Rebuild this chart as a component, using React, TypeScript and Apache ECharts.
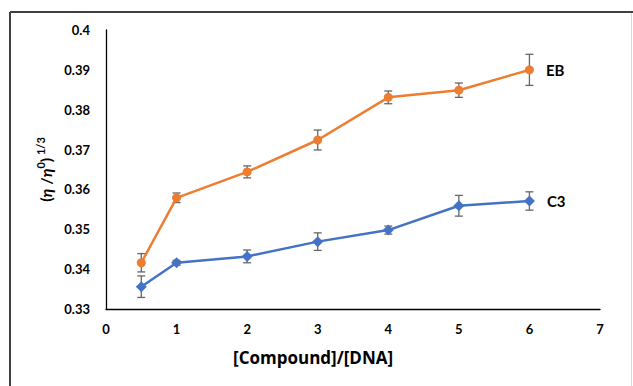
import React, { useEffect, useRef } from "react";
import * as echarts from "echarts";

const xValues = [0.5, 1, 2, 3, 4, 5, 6];
const ebValues = [0.3416, 0.3579, 0.3644, 0.3724, 0.3831, 0.3849, 0.39];
const ebErrors = [0.0023, 0.0012, 0.0015, 0.0025, 0.0016, 0.0018, 0.0039];
const c3Values = [0.3356, 0.3416, 0.3432, 0.3469, 0.3498, 0.3559, 0.3571];
const c3Errors = [0.0027, 0.0006, 0.0016, 0.0022, 0.001, 0.0026, 0.0023];
const seriesNames = ["EB", "C3"];

const FONT = "Lato";

function errorSeries(vals: number[], errs: number[]) {
  return {
    type: "custom",
    z: 1,
    silent: true,
    data: xValues.map((x, i) => [x, vals[i] - errs[i], vals[i] + errs[i]]),
    renderItem: (params: any, api: any) => {
      const lo = api.coord([api.value(0), api.value(1)]);
      const hi = api.coord([api.value(0), api.value(2)]);
      const w = 4;
      const style = { stroke: "#666666", lineWidth: 1.3 };
      return {
        type: "group",
        children: [
          { type: "line", shape: { x1: lo[0], y1: lo[1], x2: hi[0], y2: hi[1] }, style },
          { type: "line", shape: { x1: lo[0] - w, y1: lo[1], x2: lo[0] + w, y2: lo[1] }, style },
          { type: "line", shape: { x1: hi[0] - w, y1: hi[1], x2: hi[0] + w, y2: hi[1] }, style },
        ],
      };
    },
  };
}

function lineData(vals: number[], name: string) {
  return xValues.map((x, i) =>
    i === xValues.length - 1
      ? {
          value: [x, vals[i]],
          label: {
            show: true,
            position: "right",
            distance: 12,
            formatter: name,
            fontFamily: FONT,
            fontWeight: "bold",
            fontSize: 15,
            color: "#000",
          },
        }
      : { value: [x, vals[i]] }
  );
}

export default function App() {
  const ref = useRef<HTMLDivElement>(null);
  useEffect(() => {
    const chart = echarts.init(ref.current!, null, { renderer: "svg" });
    chart.setOption({
      animation: false,
      backgroundColor: "#fff",
      grid: { left: 106, right: 33, top: 30, bottom: 77 },
      graphic: [
        { type: "line", shape: { x1: 10, y1: 12, x2: 633, y2: 12 }, style: { stroke: "#404040", lineWidth: 2 } },
        { type: "line", shape: { x1: 10, y1: 12, x2: 10, y2: 386 }, style: { stroke: "#404040", lineWidth: 2 } },
        { type: "line", shape: { x1: 631.5, y1: 13, x2: 631.5, y2: 386 }, style: { stroke: "#d9d9d9", lineWidth: 1 } },
        {
          type: "text",
          left: 233,
          top: 349,
          style: {
            text: "[Compound]/[DNA]",
            fontFamily: "Open Sans",
            fontWeight: "bold",
            fontSize: 17,
            fill: "#000",
          },
        },
      ],
      xAxis: {
        type: "value",
        min: 0,
        max: 7,
        interval: 1,
        axisLine: { show: true, lineStyle: { color: "#000", width: 1.3 } },
        axisTick: { show: false },
        splitLine: { show: false },
        axisLabel: { fontFamily: FONT, fontWeight: "bold", fontSize: 13, color: "#000", margin: 13 },
      },
      yAxis: {
        type: "value",
        min: 0.33,
        max: 0.4,
        interval: 0.01,
        axisLine: { show: true, lineStyle: { color: "#000", width: 1.3 } },
        axisTick: { show: false },
        splitLine: { show: false },
        axisLabel: {
          fontFamily: FONT,
          fontWeight: "bold",
          fontSize: 13,
          color: "#000",
          margin: 16,
          formatter: (v: number) => String(+v.toFixed(2)),
        },
        name: "{a|(}{i|η}{a| /}{i|η}{s|0}{a|)}{s| 1/3}",
        nameLocation: "middle",
        nameRotate: 90,
        nameGap: 50,
        nameTextStyle: {
          rich: {
            a: { fontFamily: FONT, fontWeight: "bold", fontSize: 16, color: "#000", lineHeight: 18, verticalAlign: "bottom" },
            i: { fontFamily: FONT, fontWeight: "bold", fontStyle: "italic", fontSize: 16, color: "#000", lineHeight: 18, verticalAlign: "bottom" },
            s: { fontFamily: FONT, fontWeight: "bold", fontSize: 11, color: "#000", lineHeight: 18, verticalAlign: "top" },
          },
        },
      },
      series: [
        errorSeries(ebValues, ebErrors),
        errorSeries(c3Values, c3Errors),
        {
          name: seriesNames[0],
          type: "line",
          z: 3,
          data: lineData(ebValues, seriesNames[0]),
          symbol: "circle",
          symbolSize: 9,
          lineStyle: { color: "#ED7D31", width: 2.5 },
          itemStyle: { color: "#ED7D31" },
        },
        {
          name: seriesNames[1],
          type: "line",
          z: 3,
          data: lineData(c3Values, seriesNames[1]),
          symbol: "diamond",
          symbolSize: 11,
          lineStyle: { color: "#4472C4", width: 2.5 },
          itemStyle: { color: "#4472C4" },
        },
      ],
    });
    return () => chart.dispose();
  }, []);
  return <div ref={ref} style={{ width: 633, height: 386, position: "absolute", left: 0, top: 0 }} />;
}
